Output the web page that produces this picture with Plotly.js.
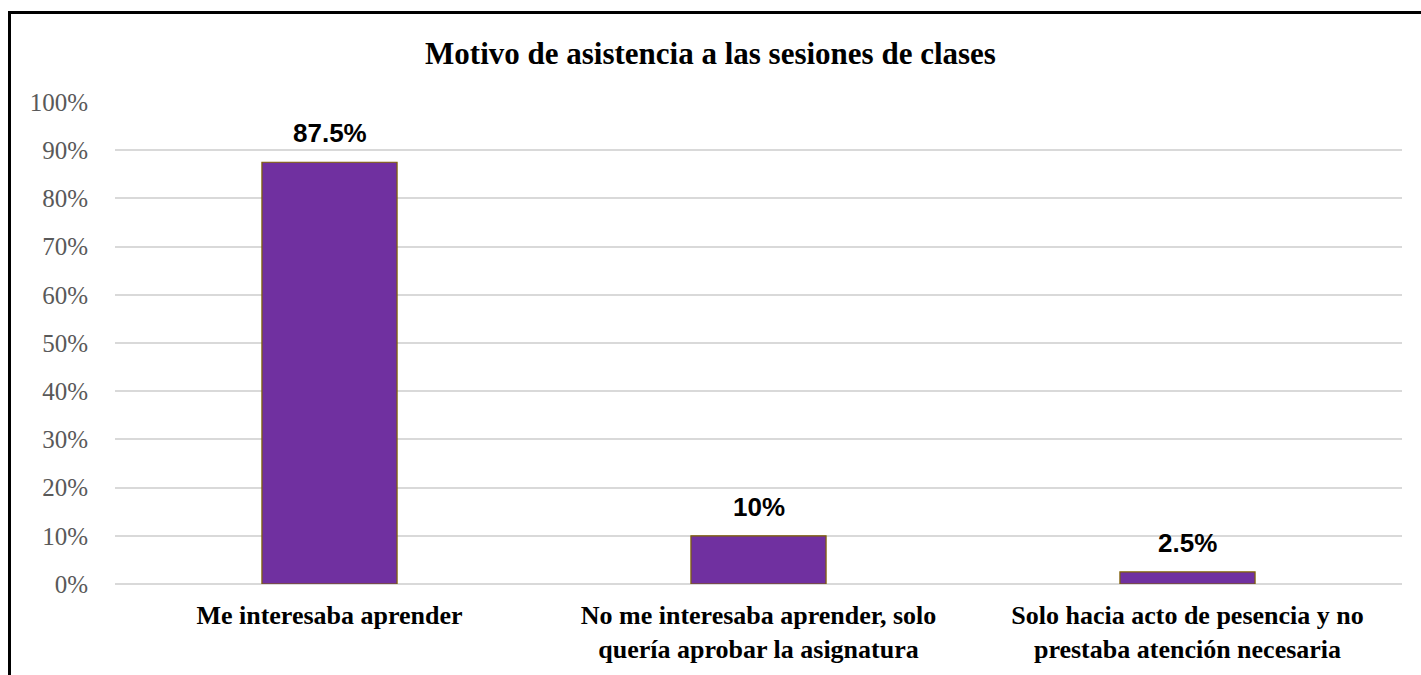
<!DOCTYPE html>
<html>
<head>
<meta charset="utf-8">
<script src="https://cdn.plot.ly/plotly-3.0.1.min.js"></script>
<style>
html,body{margin:0;padding:0;background:#fff;}
#chart{width:1421px;height:675px;}
#frame{position:absolute;left:8px;top:11px;width:1420px;height:670px;border-left:3px solid #000;border-top:3px solid #000;pointer-events:none;}
</style>
</head>
<body>
<div id="chart"></div>
<div id="frame"></div>
<script>
const categories = [
  "Me interesaba aprender",
  "No me interesaba aprender, solo<br>quería aprobar la asignatura",
  "Solo hacia acto de pesencia y no<br>prestaba atención necesaria"
];
const values = [0.875, 0.10, 0.025];
const valueLabels = ["87.5%", "10%", "2.5%"];
const tickVals = [0, 0.1, 0.2, 0.3, 0.4, 0.5, 0.6, 0.7, 0.8, 0.9, 1.0];

const serif = "Liberation Serif";

const trace = {
  type: "bar",
  x: categories,
  y: values,
  width: 0.315,
  marker: {color: "#7030A0", line: {color: "#7F6000", width: 1.2}},
  hoverinfo: "skip"
};

const annotations = categories.map((c, i) => ({
  x: c, y: values[i], xref: "x", yref: "y",
  text: valueLabels[i], showarrow: false,
  yanchor: "bottom", yshift: 12,
  font: {family: "Liberation Sans", size: 26, color: "#000", weight: "bold"}
}));

const layout = {
  width: 1421, height: 675,
  paper_bgcolor: "#fff", plot_bgcolor: "#fff",
  margin: {l: 115, r: 19, t: 102, b: 91},
  showlegend: false,
  title: {
    text: "Motivo de asistencia a las sesiones de clases",
    x: 0.5, xanchor: "center", y: 0.922, yanchor: "middle",
    font: {family: serif, size: 31, color: "#000", weight: "bold"}
  },
  xaxis: {
    type: "category",
    showgrid: false, zeroline: false, showline: false,
    ticks: "", ticklabelstandoff: 13,
    tickfont: {family: serif, size: 26, color: "#000", weight: "bold"}
  },
  yaxis: {
    range: [0, 1.0], tickvals: tickVals, tickformat: ".0%",
    showgrid: true, gridcolor: "#D9D9D9", gridwidth: 2,
    zeroline: true, zerolinecolor: "#D9D9D9", zerolinewidth: 2,
    showline: false, ticks: "", ticklabelstandoff: 26,
    tickfont: {family: serif, size: 25, color: "#595959"}
  },
  annotations: annotations
};

Plotly.newPlot("chart", [trace], layout, {displayModeBar: false, staticPlot: true});
</script>
</body>
</html>
